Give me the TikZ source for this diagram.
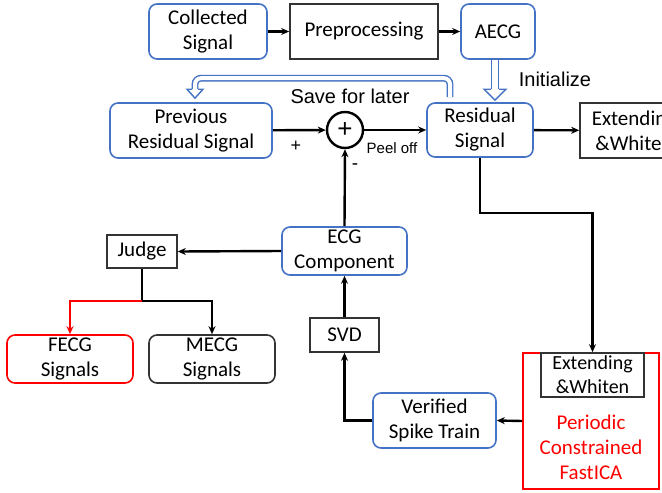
\documentclass[tikz,border=0pt]{standalone}
\usepackage{fontspec}
\setmainfont{Carlito}
\newfontfamily\arialfont{Liberation Sans}
\usetikzlibrary{arrows.meta,calc}
\definecolor{boxblue}{RGB}{68,114,196}
\definecolor{boxred}{RGB}{255,0,0}

\begin{document}
\begin{tikzpicture}[x=1pt, y=-1pt,
	txt/.style={font=\fontsize{21}{25}\selectfont, align=center, inner sep=0pt},
	bluebox/.style={txt, draw=boxblue, line width=1.6pt, rounded corners=8pt},
	blackbox/.style={txt, draw=black!80, line width=1.6pt},
	redbox/.style={txt, draw=boxred, line width=1.6pt, rounded corners=8pt},
	lbl/.style={font=\arialfont\fontsize{20}{24}\selectfont, inner sep=0pt},
	arr/.style={line width=2.4pt, -{Stealth[length=8pt,width=7pt]}},
	hollow/.style={draw=boxblue, line width=1.4pt, double=white, double distance=4pt, rounded corners=6pt}]
			%%%%% START %%%%%
			
			\useasboundingbox (0,0) rectangle (662,493);
			\clip (0,0) rectangle (662,493);
			
			\node[bluebox, minimum width=118pt, minimum height=55pt] (coll) at (208, 31.5) {Collected\\Signal};
			\node[blackbox, minimum width=148pt, minimum height=55pt] (prep) at (364, 31.5) {Preprocessing};
			\node[bluebox, minimum width=74pt, minimum height=55pt] (aecg) at (498, 31.5) {AECG};
			
			\node[bluebox, minimum width=162pt, minimum height=55pt] (prev) at (191, 130.5) {Previous\\Residual Signal};
			\node[circle, draw, line width=2.4pt, minimum size=36pt, inner sep=0pt, font=\arialfont\fontsize{26}{26}\selectfont] (sum) at (345, 130) {+};
			\node[bluebox, minimum width=106pt, minimum height=54pt] (res) at (480, 130) {Residual\\Signal};
			\node[blackbox, minimum width=108pt, minimum height=55pt] (ext1) at (634, 130.5) {Extending\\\&Whiten};
			
			\node[bluebox, minimum width=125pt, minimum height=48pt] (ecg) at (344.5, 251) {ECG\\Component};
			\node[blackbox, minimum width=70pt, minimum height=33pt] (judge) at (142, 251.5) {Judge};
			\node[redbox, minimum width=126pt, minimum height=48pt] (fecg) at (70, 359) {FECG\\Signals};
			\node[bluebox, draw=black!80, minimum width=126pt, minimum height=48pt] (mecg) at (212, 359) {MECG\\Signals};
			\node[blackbox, minimum width=69pt, minimum height=34pt] (svd) at (344.5, 335) {SVD};
			\node[bluebox, minimum width=123pt, minimum height=55pt] (spike) at (434.5, 420.5) {Verified\\Spike Train};
			
			\node[draw=boxred, line width=1.6pt, minimum width=136pt, minimum height=136pt, inner sep=0pt] (pcf) at (591, 421) {};
			\node[blackbox, font=\fontsize{20}{24}\selectfont, minimum width=103pt, minimum height=44pt] (ext2) at (592.5, 375) {Extending\\\&Whiten};
			\node[txt, text=boxred] (pcftext) at (591, 447) {Periodic\\Constrained\\FastICA};
			
			% labels
			\node[lbl] (save) at (350, 96) {Save for later};
			\node[lbl] (init) at (555, 79) {Initialize};
			\node[lbl, font=\arialfont\fontsize{18}{18}\selectfont] (plus) at (296, 146) {+};
			\node[lbl, font=\arialfont\fontsize{15}{18}\selectfont] (peel) at (392, 148) {Peel off};
			\node[lbl, font=\arialfont\fontsize{19}{18}\selectfont] (minus) at (355, 167) {-};
			
			% connectors
			\draw[arr] (coll) -- (prep);
			\draw[arr] (prep) -- (aecg);
			\draw[arr] (prev) -- (sum);
			\draw[arr] (sum) -- (res);
			\draw[arr] (res) -- (ext1);
			\coordinate (bend) at (480, 213);
			\draw[arr] (res.south) -- (bend) -| (ext2.north);
			\draw[arr] (pcf.west) -- (spike.east);
			\draw[arr] (spike.west) -| (svd.south);
			\draw[arr] (svd) -- (ecg);
			\draw[arr] (ecg.north) -- (sum.south);
			\draw[arr] (ecg.west) -- (judge.east);
			\coordinate (split) at (142, 301);
			\draw[line width=2.4pt] (judge.south) -- (split);
			\draw[arr, boxred] (split) -| (fecg.north);
			\draw[arr] (split) -| (mecg.north);
			
			% hollow arrows
			\draw[hollow] ($(res.north)+(-30,-5)$) |- ($(prev.north)+(4,-24)$) -- ($(prev.north)+(4,-13)$);
			\draw[boxblue, line width=1.4pt, fill=white] ($(prev.north)+(1,-13)$) -- ($(prev.north)+(-4,-13)$) -- ($(prev.north)+(4,-4)$) -- ($(prev.north)+(12,-13)$) -- ($(prev.north)+(7,-13)$);
			\coordinate (inittip) at ($(aecg.south |- res.north)+(-3,-2)$);
			\draw[hollow, double distance=6pt] ($(aecg.south)+(-3,0)$) -- ($(inittip)+(0,-11)$);
			\draw[boxblue, line width=1.4pt, fill=white] ($(inittip)+(-4,-11)$) -- ($(inittip)+(-11,-11)$) -- (inittip) -- ($(inittip)+(11,-11)$) -- ($(inittip)+(4,-11)$);
			
			%%%%% END %%%%%
\end{tikzpicture}
\end{document}
